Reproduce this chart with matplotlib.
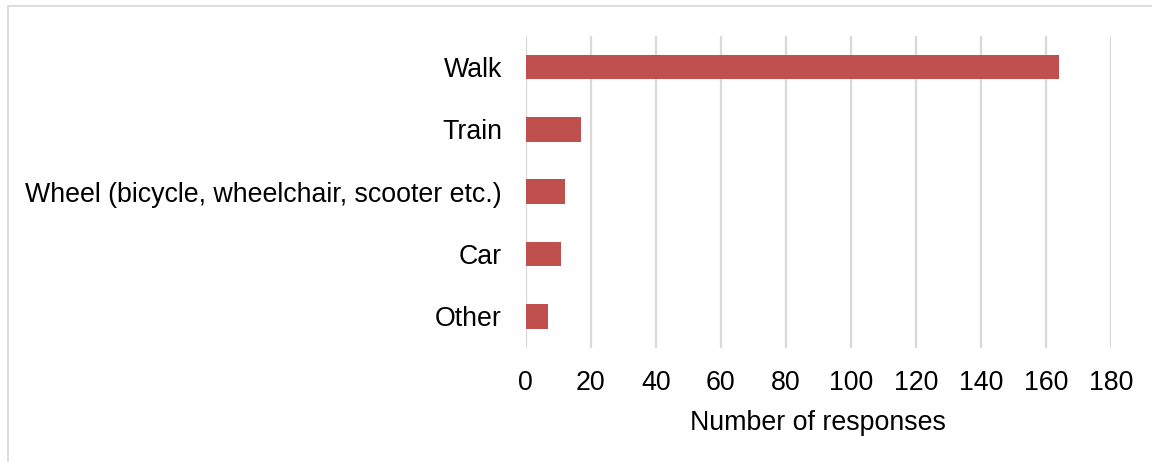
import matplotlib.pyplot as plt
from matplotlib.patches import Rectangle

plt.rcParams['font.family'] = ['Liberation Sans', 'DejaVu Sans']

modes = ["Walk", "Train", "Wheel (bicycle, wheelchair, scooter etc.)", "Car", "Other"]
responses = [164, 17, 12, 11, 7]
x_ticks = [0, 20, 40, 60, 80, 100, 120, 140, 160, 180]

fig = plt.figure(figsize=(11.52, 4.62), dpi=100)
ax = fig.add_axes([0.4563, 0.2478, 0.9644 - 0.4563, 0.9225 - 0.2478])

# light grey frame round the chart area (cut off at right/bottom)
fig.patches.append(Rectangle((8 / 1152, -0.1), 1.2, 1.1 - 6.5 / 462,
                             transform=fig.transFigure, fill=False,
                             edgecolor="#D9D9D9", linewidth=1.3))

ypos = list(range(len(modes)))
ax.barh(ypos, responses, height=0.4, color="#C0504D", zorder=3)

ax.set_xlim(0, 180)
ax.set_ylim(len(modes) - 0.5, -0.5)
ax.set_xticks(x_ticks)
ax.set_yticks(ypos)
ax.set_yticklabels(modes)
ax.grid(axis="x", color="#D9D9D9", linewidth=1.6, zorder=0)
for s in ax.spines.values():
    s.set_visible(False)
ax.tick_params(axis="both", length=0, labelsize=19.3, colors="black")
ax.tick_params(axis="y", pad=17)
ax.tick_params(axis="x", pad=16)
ax.set_xlabel("Number of responses", fontsize=19.3, labelpad=10)

fig.savefig("out.png", dpi=100)
